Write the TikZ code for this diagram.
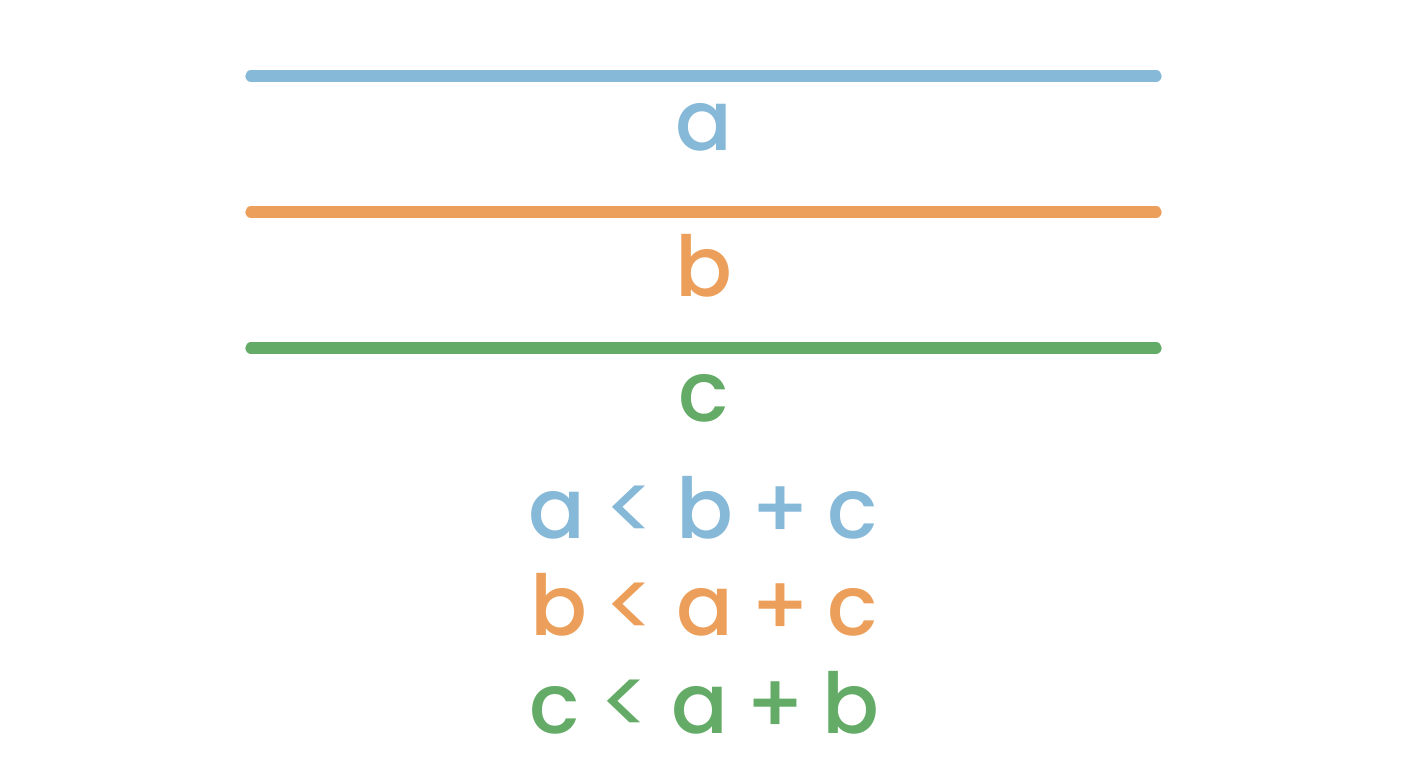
\documentclass[tikz,border=0pt]{standalone}
\usepackage{fontspec}
\setmainfont{Poppins Medium}
\newfontfamily\regfont{Poppins}
\definecolor{cA}{HTML}{86B8D8}
\definecolor{cB}{HTML}{EC9F5A}
\definecolor{cC}{HTML}{63AB66}
\begin{document}
\begin{tikzpicture}[x=0.75pt,y=-0.75pt,
  seg/.style={line width=8.5pt,line cap=round},
  glyph/.style={inner sep=0pt,anchor=base,font=\fontsize{63}{63}\selectfont},
  lessglyph/.style={inner sep=0pt,anchor=base,font=\regfont\fontsize{70}{70}\selectfont}]
\useasboundingbox (0,0) rectangle (1408,768);
% segments
\coordinate (a1) at (251,76); \coordinate (a2) at (1156,76);
\coordinate (b1) at (251,212); \coordinate (b2) at (1156,212);
\coordinate (c1) at (251,348); \coordinate (c2) at (1156,348);
\draw[seg,cA] (a1) -- (a2);
\draw[seg,cB] (b1) -- (b2);
\draw[seg,cC] (c1) -- (c2);
\node[glyph,cA] (la) at (704,150) {a};
\node[glyph,cB] (lb) at (704,296) {b};
\node[glyph,cC] (lc) at (704,421) {c};
% row 1
\node[glyph,cA] (r1a) at (557,538) {a};
\node[lessglyph,cA] (r1l) at (630,541) {<};
\node[glyph,cA] (r1b) at (705,538) {b};
\node[glyph,cA] (r1p) at (780,538) {+};
\node[glyph,cA] (r1c) at (853,538) {c};
% row 2
\node[glyph,cB] (r2b) at (559,635) {b};
\node[lessglyph,cB] (r2l) at (630,638.5) {<};
\node[glyph,cB] (r2a) at (705,635) {a};
\node[glyph,cB] (r2p) at (780,635) {+};
\node[glyph,cB] (r2c) at (853,635) {c};
% row 3
\node[glyph,cC] (r3c) at (555,733) {c};
\node[lessglyph,cC] (r3l) at (625,735.5) {<};
\node[glyph,cC] (r3a) at (700,733) {a};
\node[glyph,cC] (r3p) at (775,733) {+};
\node[glyph,cC] (r3b) at (851,733) {b};
\end{tikzpicture}
\end{document}
